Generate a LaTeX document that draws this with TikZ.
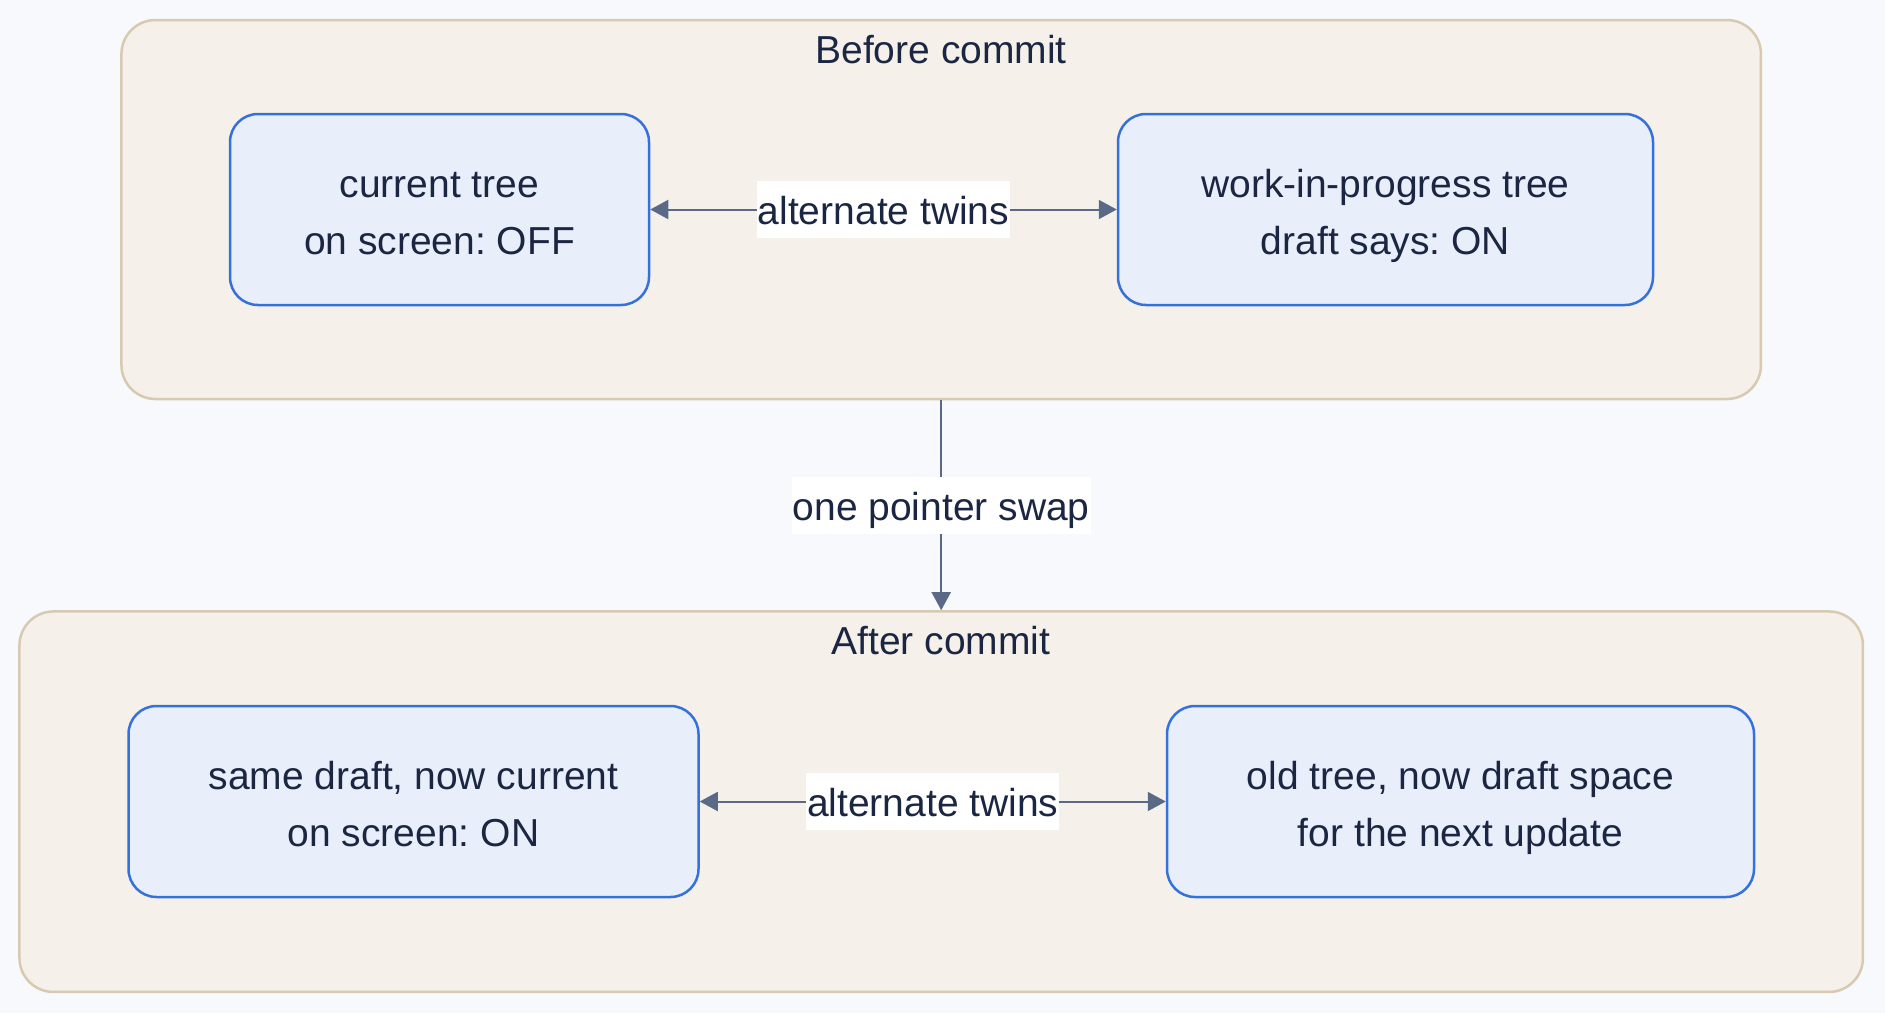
\documentclass[tikz,border=0pt]{standalone}
\usepackage{fontspec}
\setmainfont{Liberation Sans}
\frenchspacing
\usetikzlibrary{arrows.meta}
\definecolor{bgc}{HTML}{F7F9FC}
\definecolor{clfill}{HTML}{F5F1EA}
\definecolor{cldraw}{HTML}{D7CAB0}
\definecolor{ndfill}{HTML}{E8EEFA}
\definecolor{nddraw}{HTML}{3471DA}
\definecolor{arrc}{HTML}{5A6A86}
\definecolor{txtc}{HTML}{1B2642}
\tikzset{
  cluster/.style={draw=cldraw, fill=clfill, line width=2.5pt, rounded corners=34pt, inner sep=0pt},
  state/.style={draw=nddraw, fill=ndfill, line width=2.5pt, rounded corners=28pt, minimum height=191pt, align=center, text=txtc, font=\fontsize{39}{57}\selectfont, inner sep=0pt, text height=89.5pt, text depth=0pt},
  ttl/.style={text=txtc, font=\fontsize{39}{47}\selectfont, inner sep=0pt},
  lbl/.style={fill=white, text=txtc, font=\fontsize{39}{47}\selectfont, inner xsep=1pt, inner ysep=0pt, minimum height=57pt, text height=33pt, text depth=3pt},
  conn/.style={draw=arrc, line width=2pt},
  twin/.style={conn, {Triangle[length=18pt,width=19pt]}-{Triangle[length=18pt,width=19pt]}},
  oneway/.style={conn, -{Triangle[length=18pt,width=19pt]}}
}
\begin{document}
\begin{tikzpicture}[x=1pt,y=-1pt]
\fill[bgc] (0,0) rectangle (1885,1013);
\useasboundingbox (0,0) rectangle (1885,1013);

\node[cluster, minimum width=1639.5pt, minimum height=379pt] (before) at (941.2,209.5) {};
\node[cluster, minimum width=1843.5pt, minimum height=380.5pt] (after) at (941.2,801.7) {};

\node[ttl] (tb) at (941,50) {Before commit};
\node[ttl] (ta) at (941,641) {After commit};

\node[state, minimum width=419pt] (cur) at (439.5,209.5) {current tree\\on screen: OFF};
\node[state, minimum width=535pt] (wip) at (1385.5,209.5) {work-in-progress tree\\draft says: ON};
\node[state, minimum width=570pt] (same) at (413.5,801.5) {same draft, now current\\on screen: ON};
\node[state, minimum width=587pt] (old) at (1460.5,801.5) {old tree, now draft space\\for the next update};

\draw[twin] (cur.east) -- node[lbl] {alternate twins} (wip.west);
\draw[twin] (same.east) -- node[lbl] {alternate twins} (old.west);
\draw[oneway] (before.south) -- node[lbl] {one pointer swap} (after.north);
\end{tikzpicture}
\end{document}
